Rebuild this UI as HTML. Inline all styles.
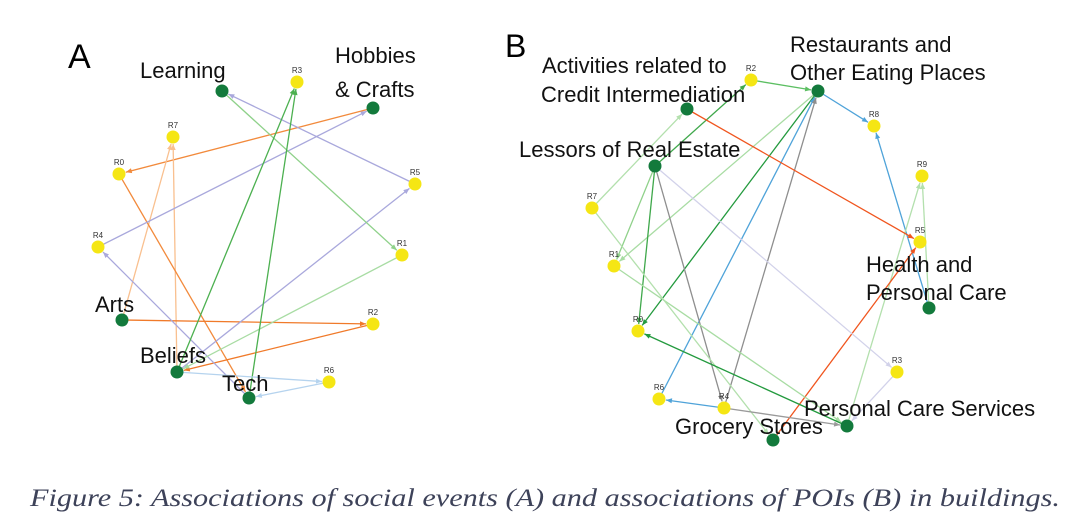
<!DOCTYPE html>
<html><head><meta charset="utf-8">
<style>
html,body{margin:0;padding:0;background:#fff;}
svg{display:block;}
.lbl{font-family:"Liberation Sans",sans-serif;font-size:22px;fill:#111;}
.rl{font-family:"Liberation Sans",sans-serif;font-size:8px;fill:#333;}
</style></head>
<body>
<svg id="fig" width="1068" height="524" viewBox="0 0 1068 524" xmlns="http://www.w3.org/2000/svg">
<g id="gA"></g>
<g id="gB"></g>
<text x="68" y="68" font-family="Liberation Sans,sans-serif" font-size="34" fill="#000">A</text>
<text x="505" y="57" font-family="Liberation Sans,sans-serif" font-size="32" fill="#000">B</text>
<text x="30" y="506" font-family="Liberation Serif,serif" font-style="italic" font-size="25" fill="#3d4259" textLength="1030" lengthAdjust="spacingAndGlyphs">Figure 5: Associations of social events (A) and associations of POIs (B) in buildings.</text>
</svg>
<script>
const nodesA = [
 ["Learning",222,91,"g"],["R3",297,82,"r"],["Hobbies",373,108,"g"],["R7",173,137,"r"],
 ["R0",119,174,"r"],["R5",415,184,"r"],["R4",98,247,"r"],["R1",402,255,"r"],
 ["Arts",122,320,"g"],["R2",373,324,"r"],["Beliefs",177,372,"g"],["R6",329,382,"r"],["Tech",249,398,"g"]
];
const edgesA = [
 ["Hobbies","R0","#f28a3c"],["Arts","R7","#f9c08f"],["Beliefs","R7","#f9c08f"],["R0","Tech","#f28a3c"],
 ["Arts","R2","#f07a2a"],["R2","Beliefs","#f07a2a"],["R4","Hobbies","#a9a8dc"],["Tech","R4","#a9a8dc"],
 ["Beliefs","R5","#a9a8dc"],["R5","Learning","#a9a8dc"],["Learning","R1","#8fd18a"],["R1","Beliefs","#a8dca3"],
 ["Beliefs","R3","#4cb050"],["Tech","R3","#4cb050"],["Beliefs","R6","#b5d3ee"],["R6","Tech","#b5d3ee"]
];
const labelsA = [
 ["Learning",140,78],["Hobbies",335,63],["& Crafts",335,97],["Arts",95,312],["Beliefs",140,363],["Tech",222,391]
];
const nodesB = [
 ["R2",751,80,"r"],["Rest",818,91,"g"],["Credit",687,109,"g"],["R8",874,126,"r"],["Lessors",655,166,"g"],
 ["R9",922,176,"r"],["R7",592,208,"r"],["R5",920,242,"r"],["R1",614,266,"r"],["Health",929,308,"g"],
 ["R0",638,331,"r"],["R3",897,372,"r"],["R6",659,399,"r"],["R4",724,408,"r"],["PCS",847,426,"g"],["Grocery",773,440,"g"]
];
const edgesB = [
 ["R2","Rest","#5cbf62"],["Lessors","R2","#3fa84b"],["R7","Credit","#b3e0ad"],["Rest","R1","#a8dca3"],
 ["Rest","R0","#239a3e"],["R6","Rest","#4fa3d9"],["R4","Rest","#8e8e8e"],["Rest","R8","#4fa3d9"],
 ["Health","R8","#4fa3d9"],["Health","R9","#b3e0ad"],["PCS","R9","#b3e0ad"],["Credit","R5","#f0551e"],
 ["Grocery","R5","#f0551e"],["Lessors","R1","#8fd18a"],["Lessors","R0","#3fa84b"],["Lessors","R4","#8e8e8e"],
 ["Lessors","R3","#d2d2ea"],["R1","PCS","#a8dca3"],["R7","Grocery","#b3e0ad"],["PCS","R0","#239a3e"],
 ["R4","R6","#4fa3d9"],["R4","PCS","#9a9a9a"],["R3","PCS","#d2d2ea"]
];
const labelsB = [
 ["Activities related to",542,73],["Credit Intermediation",541,102],["Restaurants and",790,52],["Other Eating Places",790,80],
 ["Lessors of Real Estate",519,157],["Health and",866,272],["Personal Care",866,300],["Personal Care Services",804,416],["Grocery Stores",675,434]
];
const NS="http://www.w3.org/2000/svg";
function draw(g, nodes, edges, labels, prefix){
  const pos={};
  nodes.forEach(n=>pos[n[0]]=[n[1],n[2]]);
  edges.forEach(e=>{
    const a=pos[e[0]], b=pos[e[1]];
    const dx=b[0]-a[0], dy=b[1]-a[1], L=Math.hypot(dx,dy), ux=dx/L, uy=dy/L;
    const ex=b[0]-ux*7, ey=b[1]-uy*7;
    const l=document.createElementNS(NS,"line");
    
    
    l.setAttribute("x1",a[0]);l.setAttribute("y1",a[1]);l.setAttribute("x2",ex);l.setAttribute("y2",ey);
    l.setAttribute("stroke",e[2]);l.setAttribute("stroke-width","1.3");
    g.appendChild(l);
    const p=document.createElementNS(NS,"polygon");
    
    
    const bx=ex-ux*6, by=ey-uy*6, px=-uy*2.5, py=ux*2.5;
    p.setAttribute("points",ex+","+ey+" "+(bx+px)+","+(by+py)+" "+(bx-px)+","+(by-py));
    p.setAttribute("fill",e[2]);
    g.appendChild(p);
  });
  nodes.forEach(n=>{
    const c=document.createElementNS(NS,"circle");
    
    
    c.setAttribute("cx",n[1]);c.setAttribute("cy",n[2]);c.setAttribute("r",6.5);
    c.setAttribute("fill",n[3]=="g"?"#137a3c":"#f5e614");
    g.appendChild(c);
    if(n[3]=="r"){
      const t=document.createElementNS(NS,"text");
      
      
      t.setAttribute("x",n[1]);t.setAttribute("y",n[2]-9);t.setAttribute("text-anchor","middle");
      t.setAttribute("class","rl");t.textContent=n[0];g.appendChild(t);
    }
  });
  labels.forEach(lb=>{
    const t=document.createElementNS(NS,"text");
    
    
    t.setAttribute("x",lb[1]);t.setAttribute("y",lb[2]);t.setAttribute("class","lbl");
    t.textContent=lb[0];g.appendChild(t);
  });
}
draw(document.getElementById("gA"),nodesA,edgesA,labelsA,"a-");
draw(document.getElementById("gB"),nodesB,edgesB,labelsB,"b-");
</script>
</body></html>
